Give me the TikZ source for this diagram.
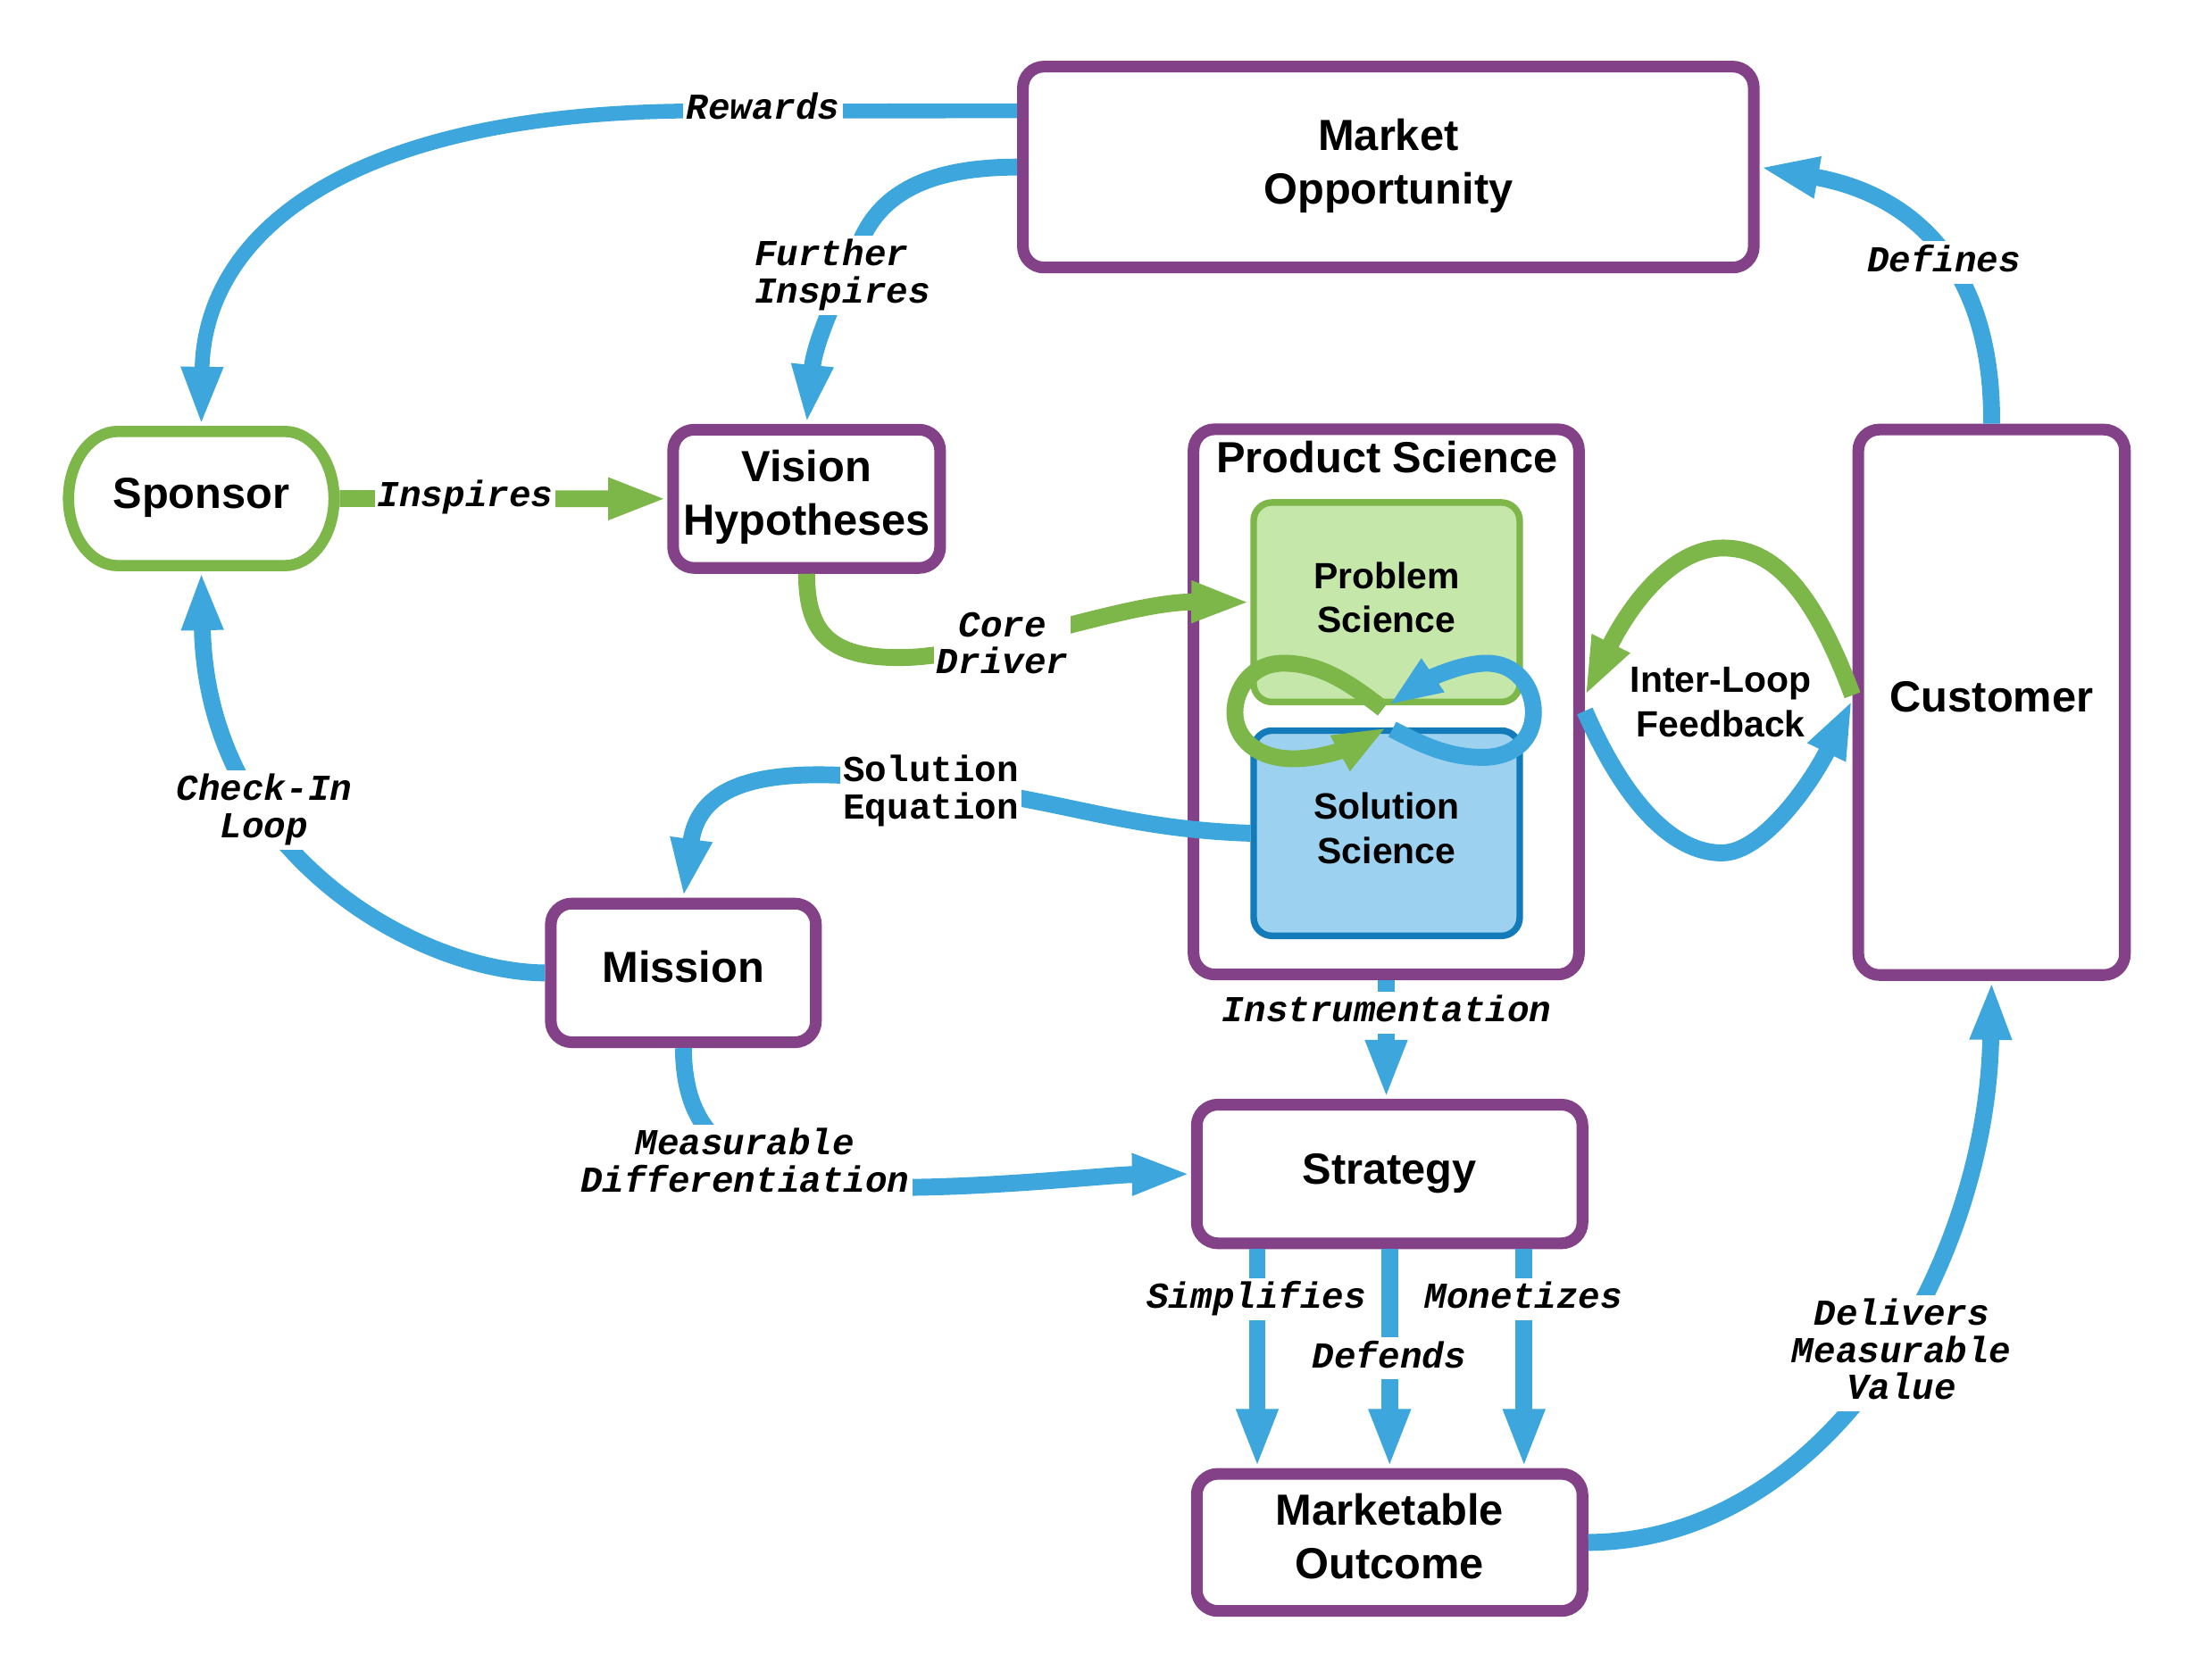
\documentclass[tikz,border=0pt]{standalone}
\usepackage{fontspec}
\setmainfont{Liberation Sans}
\newfontfamily\lmono{Liberation Mono}
\usetikzlibrary{arrows.meta,calc}
\definecolor{purp}{RGB}{131,65,135}
\definecolor{lblue}{RGB}{61,166,221}
\definecolor{grn}{RGB}{125,182,73}
\definecolor{probfill}{RGB}{197,231,169}
\definecolor{solfill}{RGB}{157,209,240}
\definecolor{solline}{RGB}{20,123,187}
\newcommand{\stS}{\rule[-0.35em]{0pt}{1.15em}}
\newcommand{\stM}{\rule[-0.25em]{0pt}{1em}}
\begin{document}
\begin{tikzpicture}[x=1pt,y=-1pt,
  boxst/.style={draw=purp, line width=8.3pt, rounded corners=15pt, fill=white, inner sep=0pt, align=center, font=\bfseries\fontsize{31}{38}\selectfont},
  innerbox/.style={line width=4.7pt, rounded corners=13pt, inner sep=0pt, align=center, font=\bfseries\fontsize{26}{31.5}\selectfont, minimum width=189.3pt},
  conn/.style={line width=12pt, draw=lblue, -{Triangle[length=42pt,width=27pt]}},
  gconn/.style={conn, draw=grn},
  infl/.style={line width=12pt, -{Triangle[length=38pt,width=26pt]}},
  lab/.style={fill=white, inner sep=2pt, align=center, font=\lmono\bfseries\itshape\fontsize{26}{26.4}\selectfont},
  labup/.style={lab, font=\lmono\bfseries\fontsize{26}{26.4}\selectfont}]
\fill[white] (0,0) rectangle (1560.3,1195);
\useasboundingbox (0,0) rectangle (1560.3,1195);

% ---------- boxes ----------
\node[boxst, minimum width=520pt, minimum height=143pt] (mkt) at (987.8,118.9) {\stS Market\\\stS Opportunity};
\node[inner sep=0pt, outer sep=4pt, minimum width=188.9pt, minimum height=95.5pt, font=\bfseries\fontsize{31}{38}\selectfont] (spon) at (143.2,354.8) {\stS Sponsor};
\draw[grn, line width=8pt] ($(spon.center)+(-59.45,-47.75)$) -- ($(spon.center)+(59.45,-47.75)$)
  arc[start angle=90, end angle=-90, x radius=35pt, y radius=47.75pt]
  -- ($(spon.center)+(-59.45,47.75)$)
  arc[start angle=270, end angle=90, x radius=35pt, y radius=47.75pt] -- cycle;
\node[boxst, minimum width=190pt, minimum height=98.4pt] (vis) at (573.9,355) {\stS Vision\\\stS Hypotheses};
\node[boxst, minimum width=274.2pt, minimum height=388pt] (ps) at (986.3,499.5) {};
\node[anchor=base, inner sep=0pt, font=\bfseries\fontsize{31}{38}\selectfont] (pstitle) at (986.8,336.7) {Product Science};
\node[innerbox, draw=grn, fill=probfill, minimum height=142pt] (prob) at (986.6,428.6) {\stS Problem\\\stS Science};
\node[innerbox, draw=solline, fill=solfill, minimum height=146pt] (sol) at (986.6,593) {\stS Solution\\\stS Science};
\node[boxst, minimum width=189.7pt, minimum height=388.2pt] (cus) at (1417,499.8) {\stS Customer};
\node[boxst, minimum width=188.6pt, minimum height=98.7pt] (mis) at (486.2,692.4) {\stS Mission};
\node[boxst, minimum width=274.4pt, minimum height=98.7pt] (str) at (988.7,835.5) {\stS Strategy};
\node[boxst, minimum width=274.4pt, minimum height=97.6pt] (mo) at (988.7,1097.7) {\stS Marketable\\\stS Outcome};

% ---------- infinity loop ----------
\draw[infl, draw=grn] (984,504.5) .. controls (958,484) and (938,472) .. (913,472)
  .. controls (891,472) and (878.6,490) .. (878.6,507)
  .. controls (878.6,526) and (895,540) .. (920,540)
  .. controls (945,540) and (968,528) .. (986.6,517.7);
\draw[infl, draw=lblue] (990.6,519) .. controls (1015,532) and (1033,539) .. (1055,539)
  .. controls (1077,539) and (1091,526) .. (1091,507)
  .. controls (1091,488) and (1078,472) .. (1058,472)
  .. controls (1036,472) and (1010,487) .. (988.1,501.9);

% ---------- connectors ----------
\draw[conn, line width=10.5pt] ($(mkt.west)+(0,-40)$) -- (486,79) .. controls (240,82) and (145,170) .. (spon.north);
\draw[conn] (mkt.west) .. controls (665,119) and (630,135) .. (614,168) .. controls (600,200) and (580,240) .. (vis.north);
\draw[gconn] (spon.east) -- (vis.west);
\draw[gconn] (vis.south) .. controls (574,450) and (590,468) .. (640,468) .. controls (700,468) and (800,428) .. (prob.west);
\draw[conn] (sol.west) .. controls (800,590) and (760,570) .. (662,558) .. controls (555,543) and (498,552) .. (mis.north);
\draw[conn] (mis.west) .. controls (300,692) and (147,610) .. (spon.south);
\draw[conn] (mis.south) .. controls (487,805) and (515,846) .. (650,845) .. controls (720,844) and (790,836) .. (str.west);
\draw[conn] (ps.south) -- (ps.south |- str.north);
\draw[conn] ($(str.south)+(-94.2,0)$) -- ($(mo.north)+(-94.2,0)$);
\draw[conn] (str.south) -- (mo.north);
\draw[conn] ($(str.south)+(95.6,0)$) -- ($(mo.north)+(95.6,0)$);
\draw[conn] (mo.east) .. controls (1300,1097) and (1414,900) .. (cus.south);
\draw[conn] (cus.north) .. controls (1418,200) and (1370,140) .. (mkt.east);
\draw[gconn] ($(cus.west)+(0,-5)$) .. controls (1290,420) and (1262,390) .. (1226,390) .. controls (1190,390) and (1160,430) .. ($(ps.east)+(0,-4)$);
\draw[conn] ($(ps.east)+(0,6.5)$) .. controls (1160,580) and (1195,607) .. (1225,607) .. controls (1255,607) and (1290,555) .. ($(cus.west)+(0,-2)$);

% ---------- labels ----------
\node[lab] (lrew) at (542.9,78) {\stM Rewards};
\node[lab, anchor=west, align=left] (lfur) at (534.8,196) {\stM Further\\\stM Inspires};
\node[lab] (lins) at (331,354.3) {\stM Inspires};
\node[lab] (lcore) at (713.2,459.9) {\stM Core\\\stM Driver};
\node[labup] (lsol) at (662.4,563) {\stM Solution\\\stM Equation};
\node[lab] (lchk) at (188,576.5) {\stM Check-In\\\stM Loop};
\node[lab] (lmd) at (530,828.7) {\stM Measurable\\\stM Differentiation};
\node[lab] (linst) at (986.7,720.5) {\stM Instrumentation};
\node[lab] (lsimp) at (894,924.8) {\stM Simplifies};
\node[lab] (lmon) at (1084,924.8) {\stM Monetizes};
\node[lab] (ldef) at (988.4,966.8) {\stM Defends};
\node[lab] (ldel) at (1353,963) {\stM Delivers\\\stM Measurable\\\stM Value};
\node[lab] (ldfn) at (1383.1,186.8) {\stM Defines};
\node[inner sep=0pt, align=center, font=\bfseries\fontsize{26}{31.8}\selectfont] (ilf) at (1224.3,502.9) {\stS Inter-Loop\\\stS Feedback};
\end{tikzpicture}
\end{document}
